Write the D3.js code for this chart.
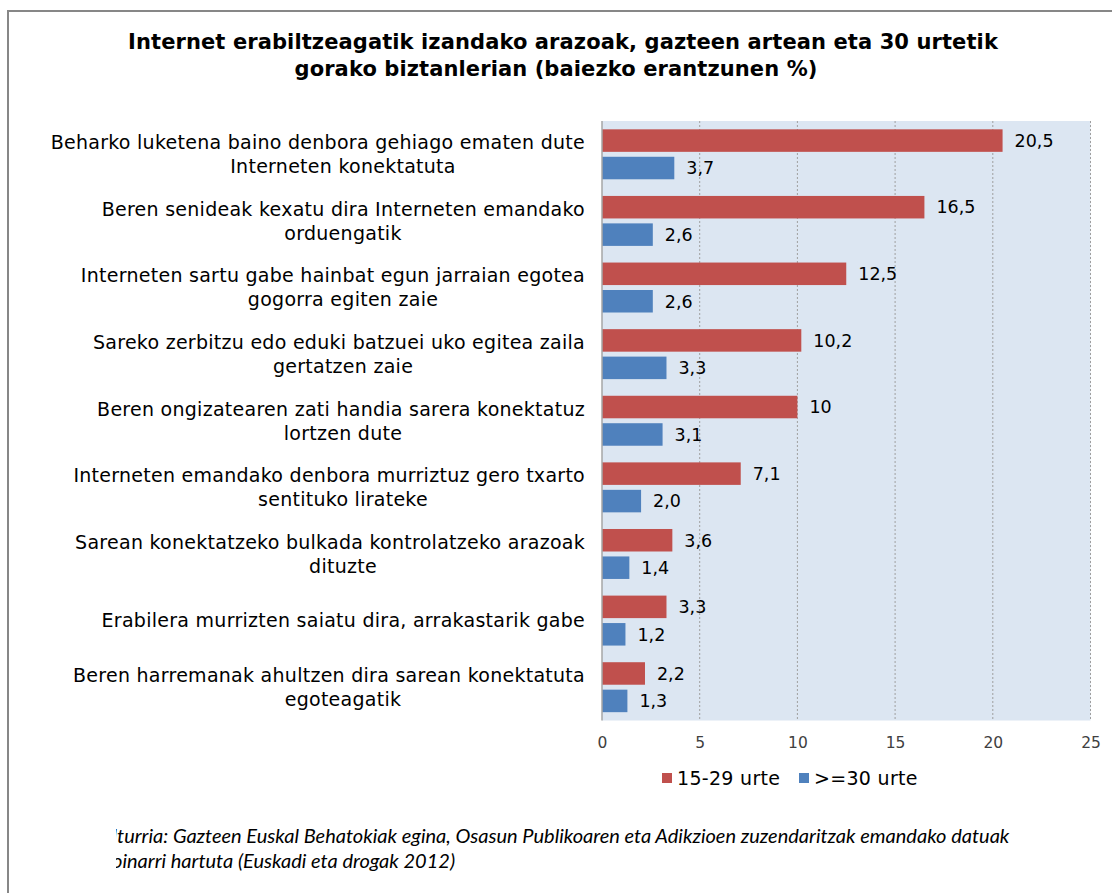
<!DOCTYPE html>
<html><head><meta charset="utf-8">
<script src="https://cdn.jsdelivr.net/npm/d3@7"></script>
<style>
html,body{margin:0;padding:0;background:#fff;}
svg{display:block;}
</style></head>
<body>
<svg id="c" width="1112" height="893"></svg>
<script>
// ---- data ----
const categories = [
  ["Beharko luketena baino denbora gehiago ematen dute", "Interneten konektatuta"],
  ["Beren senideak kexatu dira Interneten emandako", "orduengatik"],
  ["Interneten sartu gabe hainbat egun jarraian egotea", "gogorra egiten zaie"],
  ["Sareko zerbitzu edo eduki batzuei uko egitea zaila", "gertatzen zaie"],
  ["Beren ongizatearen zati handia sarera konektatuz", "lortzen dute"],
  ["Interneten emandako denbora murriztuz gero txarto", "sentituko lirateke"],
  ["Sarean konektatzeko bulkada kontrolatzeko arazoak", "dituzte"],
  ["Erabilera murrizten saiatu dira, arrakastarik gabe"],
  ["Beren harremanak ahultzen dira sarean konektatuta", "egoteagatik"]
];
const seriesNames = ["15-29 urte", ">=30 urte"];
const young = [20.5, 16.5, 12.5, 10.2, 10, 7.1, 3.6, 3.3, 2.2];
const older = [3.7, 2.6, 2.6, 3.3, 3.1, 2.0, 1.4, 1.2, 1.3];
const xTicks = [0, 5, 10, 15, 20, 25];
const titleLines = ["Internet erabiltzeagatik izandako arazoak, gazteen artean eta 30 urtetik",
                    "gorako biztanlerian (baiezko erantzunen %)"];
const sourceLines = ["Iturria: Gazteen Euskal Behatokiak egina, Osasun Publikoaren eta Adikzioen zuzendaritzak emandako datuak",
                     "oinarri hartuta (Euskadi eta drogak 2012)"];
const colors = ["#C0504D", "#4F81BD"];

const fmtVal = v => (v === 10 ? "10" : v.toFixed(1).replace(".", ","));

const svg = d3.select("#c");
const W = 1112, H = 893;
const FONT = "DejaVu Sans, Verdana, sans-serif";

// frame
svg.append("path").attr("d", `M8,${H+2} L8,11 L${W+2},11`)
  .attr("fill","none").attr("stroke","#878787").attr("stroke-width",2);

// title
const title = svg.append("text").attr("text-anchor","middle")
  .attr("font-family",FONT).attr("font-weight","bold")
  .attr("font-size",21).attr("letter-spacing",0.1).attr("fill","#000");
const titleX = [563, 556];
titleLines.forEach((t,i)=> title.append("tspan").attr("x",titleX[i]).attr("y",48.5 + i*27).text(t));

// plot area
const pL = 602, pR = 1090.5, pT = 121, pB = 720.5;
const x = d3.scaleLinear().domain([0,25]).range([pL,pR]);
const y0 = d3.scaleBand().domain(d3.range(categories.length)).range([pT,pB])
  .paddingInner(0.25).paddingOuter(0.125);
const y1 = d3.scaleBand().domain([0,1]).range([0,y0.bandwidth()]).paddingInner(0.18);

svg.append("rect").attr("x",pL).attr("y",pT).attr("width",pR-pL).attr("height",pB-pT)
  .attr("fill","#DCE6F2");

// gridlines
svg.append("g").selectAll("line").data(xTicks.filter(d=>d>0)).join("line")
  .attr("x1",d=>x(d)).attr("x2",d=>x(d)).attr("y1",pT).attr("y2",pB)
  .attr("stroke","#9f9f9f").attr("stroke-width",1).attr("stroke-dasharray","2,2");

// bars
const data = categories.map((c,i)=>({i, vals:[young[i], older[i]]}));
const g = svg.append("g").selectAll("g").data(data).join("g")
  .attr("transform",d=>`translate(0,${y0(d.i)})`);
g.selectAll("rect").data(d=>d.vals.map((v,s)=>({v,s}))).join("rect")
  .attr("x",x(0)).attr("y",d=>y1(d.s)).attr("width",d=>x(d.v)-x(0)).attr("height",y1.bandwidth())
  .attr("fill",d=>colors[d.s]);
g.selectAll("text").data(d=>d.vals.map((v,s)=>({v,s}))).join("text")
  .attr("x",d=>x(d.v)+12).attr("y",d=>y1(d.s)+y1.bandwidth()/2).attr("dy","0.36em")
  .attr("font-family",FONT).attr("font-size",17.5).attr("fill","#000")
  .text(d=>fmtVal(d.v));

// zero axis line
svg.append("line").attr("x1",x(0)).attr("x2",x(0)).attr("y1",pT).attr("y2",pB)
  .attr("stroke","#a6a6a6").attr("stroke-width",1.5);

// x axis labels
const xAxis = d3.axisBottom(x).tickValues(xTicks).tickSize(0).tickPadding(0);
const ax = svg.append("g").attr("transform",`translate(0,${pB})`).call(xAxis);
ax.select(".domain").remove();
ax.selectAll("text").attr("font-family",FONT).attr("font-size",15.5)
  .attr("fill","#404040").attr("dy",0).attr("y",27.5);

// category labels
const lab = svg.append("g").attr("font-family",FONT)
  .attr("font-size",19).attr("letter-spacing",0.27).attr("fill","#000");
categories.forEach((lines,i)=>{
  const cy = y0(i) + y0.bandwidth()/2;
  const n = lines.length;
  lines.forEach((t,j)=>{
    const yy = cy + (j - (n-1)/2)*24;
    lab.append("text")
      .attr("x", j===0 ? 585 : 343)
      .attr("text-anchor", j===0 ? "end" : "middle")
      .attr("y", yy).attr("dy","0.36em").text(t);
  });
});

// legend
const leg = svg.append("g").attr("font-family",FONT).attr("font-size",19).attr("letter-spacing",0.3);
const legX = [662, 799];
seriesNames.forEach((s,i)=>{
  leg.append("rect").attr("x",legX[i]).attr("y",773).attr("width",10).attr("height",10).attr("fill",colors[i]);
  leg.append("text").attr("x",legX[i]+15).attr("y",778).attr("dy","0.36em").attr("fill","#000").text(s);
});

// source
const defs = svg.append("defs");
defs.append("clipPath").attr("id","srcclip").append("rect").attr("x",116).attr("y",800).attr("width",1000).attr("height",93);
const src = svg.append("g").attr("clip-path","url(#srcclip)")
  .attr("font-family","Lato, 'Open Sans', sans-serif").attr("font-style","italic").attr("font-size",20).attr("fill","#000");
sourceLines.forEach((t,i)=> src.append("text").attr("x",112).attr("y",843 + i*25).text(t));
</script>
</body></html>
